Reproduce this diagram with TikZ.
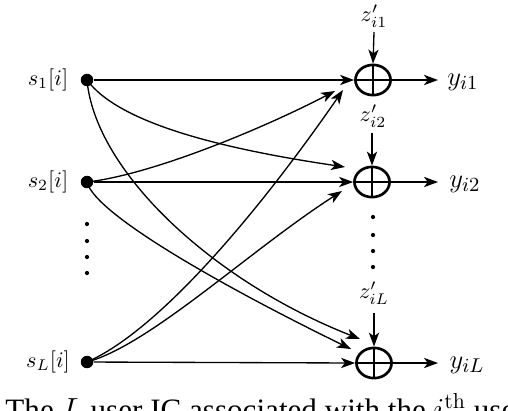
\documentclass[tikz,border=0pt]{standalone}
\usepackage{fontspec}
\newfontfamily\capfont{Liberation Serif}
\usetikzlibrary{arrows.meta,shapes.geometric}
\begin{document}
\begin{tikzpicture}[x=0.45pt,y=-0.45pt,
  conn/.style={line width=0.6pt,-{Stealth[length=6.3pt,width=4.6pt,inset=1.7pt]}},
  src/.style={circle,fill,inner sep=0pt,minimum size=5.6pt},
  smalldot/.style={circle,fill,inner sep=0pt,minimum size=1.9pt},
  adder/.style={ellipse,draw,line width=1.2pt,minimum width=15.8pt,minimum height=13.6pt,inner sep=0pt,
    path picture={\draw[line width=0.6pt] (path picture bounding box.north) -- (path picture bounding box.south)
      (path picture bounding box.west) -- (path picture bounding box.east);}},
  lab/.style={inner sep=0pt},
  ylab/.style={inner sep=0pt,font=\fontsize{12.5}{14}\selectfont}]
\useasboundingbox (0,0) rectangle (508,410);
\clip (0,0) rectangle (508,410);

% sources
\node[src] (s1) at (87,80) {};
\node[src] (s2) at (87,182) {};
\node[src] (sL) at (87,362) {};
\node[lab] (ls1) at (48,80) {$s_1[i]$};
\node[lab] (ls2) at (48,182) {$s_2[i]$};
\node[lab] (lsL) at (48,362) {$s_L[i]$};
\foreach \y [count=\k] in {224,241,257,273} \node[smalldot] (ld\k) at (87,\y) {};

% adders
\node[adder] (a1) at (373,80) {};
\node[adder] (a2) at (372,182) {};
\node[adder] (aL) at (374,363) {};
\foreach \y [count=\k] in {217,235,251,267} \node[smalldot] (rd\k) at (373,\y) {};

% noise
\node[lab] (z1) at (374,16) {$z'_{i1}$};
\node[lab] (z2) at (373,116) {$z'_{i2}$};
\node[lab] (zL) at (374,293) {$z'_{iL}$};
\coordinate (z1e) at (374,32);
\coordinate (z2e) at (372,133);
\coordinate (zLe) at (374,313);
\draw[conn] (z1e) -- (a1.north);
\draw[conn] (z2e) -- (a2.north);
\draw[conn] (zLe) -- (aL.north);

% outputs
\coordinate (o1) at (438,80);
\coordinate (o2) at (438,182);
\coordinate (oL) at (438,363);
\draw[conn] (a1.east) -- (o1);
\draw[conn] (a2.east) -- (o2);
\draw[conn] (aL.east) -- (oL);
\node[ylab] (y1) at (463,82) {$y_{i1}$};
\node[ylab] (y2) at (465,184) {$y_{i2}$};
\node[ylab] (yL) at (467,365) {$y_{iL}$};

% direct links
\draw[conn] (s1) -- (a1.west);
\draw[conn] (s2) -- (a2.west);
\draw[conn] (sL) -- (aL.west);

% cross links
\coordinate (t12) at (345,167);
\coordinate (t1L) at (360,339);
\coordinate (t21) at (335,91);
\coordinate (t2L) at (351,349);
\coordinate (tL1) at (343,90);
\coordinate (tL2) at (342,191);
\draw[conn] (s1.center) .. controls (120,125) and (230,150) .. (t12);
\draw[conn] (s1.center) .. controls (95,170) and (210,280) .. (t1L);
\draw[conn] (s2.center) .. controls (150,175) and (260,130) .. (t21);
\draw[conn] (s2.center) .. controls (95,215) and (230,290) .. (t2L);
\draw[conn] (sL.center) .. controls (160,330) and (260,210) .. (tL1);
\draw[conn] (sL.center) .. controls (150,345) and (250,250) .. (tL2);

% caption (cut off at the bottom edge, as in the reference)
\node[anchor=base west,inner sep=0pt,font=\capfont\fontsize{14}{16}\selectfont] (cap) at (5,420)
  {The $L$ user IC associated with the $i^{\mathrm{th}}$ user};
\end{tikzpicture}
\end{document}
